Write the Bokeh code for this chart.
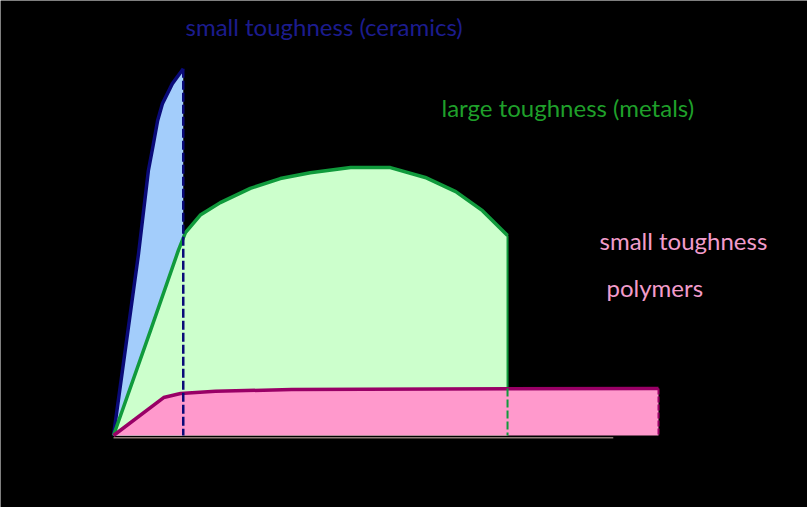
from bokeh.plotting import figure
from bokeh.models import Range1d
from bokeh.embed import file_html
from bokeh.resources import INLINE
from bokeh.core.properties import value

# ---- data (strain in % of polymer failure strain, stress in % of ceramic strength) ----
ceramic_strain = [0, 4.6, 6.4, 7.2, 8.1, 9.0, 10.8, 12.8]
ceramic_stress = [0, 49.9, 72.6, 78.9, 86.3, 91.0, 96.4, 100.5]

metal_strain = [0, 6.8, 11.9, 13.2, 16.0, 19.6, 25.1, 30.6, 36.1, 43.5, 50.8, 57.2, 62.8, 67.7, 72.3]
metal_stress = [0, 28.8, 50.7, 55.6, 60.5, 63.8, 67.7, 70.4, 72.0, 73.4, 73.4, 70.7, 66.8, 61.6, 54.8]

polymer_strain = [0, 9.2, 12.3, 18.7, 32.7, 100.0]
polymer_stress = [0, 10.4, 11.5, 12.1, 12.6, 12.9]

baseline_strain = [0, 91.7]

labels = ["small toughness (ceramics)", "large toughness (metals)", "small toughness", "polymers"]

# ---- figure ----
XS, YS = 5.45, 3.65   # pixels per data unit
p = figure(width=807, height=507, output_backend="svg", toolbar_location=None,
           x_range=Range1d(-113 / XS, (807 - 113) / XS),
           y_range=Range1d(-(507 - 435) / YS, 435 / YS),
           min_border=0, min_border_left=0, min_border_right=0,
           min_border_top=0, min_border_bottom=0)
p.xaxis.visible = False
p.yaxis.visible = False
p.grid.visible = False
p.background_fill_color = "black"
p.border_fill_color = "black"
p.outline_line_color = None

BLUE_FILL, BLUE_LINE = "#a3cdfb", "#0a0a78"
GREEN_FILL, GREEN_LINE = "#ccffcc", "#109a3c"
PINK_FILL, PINK_LINE = "#ff99cc", "#990066"


def closed(xs, ys):
    return xs + [xs[-1]], ys + [0]


# baseline (faint axis)
p.line(baseline_strain, [-0.6, -0.6], line_color="#8c7c74", line_width=1.5)

# ceramics
cx, cy = closed(ceramic_strain, ceramic_stress)
p.patch(cx, cy, fill_color=BLUE_FILL, line_color=None)
p.line(ceramic_strain, ceramic_stress, line_color=BLUE_LINE, line_width=3.5, line_join="round")

# metals
mx, my = closed(metal_strain, metal_stress)
p.patch(mx, my, fill_color=GREEN_FILL, line_color=None)
p.line(metal_strain, metal_stress, line_color=GREEN_LINE, line_width=3.5, line_join="round")
p.segment(x0=[metal_strain[-1]], y0=[metal_stress[-1]], x1=[metal_strain[-1]],
          y1=[polymer_stress[-1]], line_color=GREEN_LINE, line_width=2)

# polymers
px_, py_ = closed(polymer_strain, polymer_stress)
p.patch(px_, py_, fill_color=PINK_FILL, line_color=None)
p.line(polymer_strain, polymer_stress, line_color=PINK_LINE, line_width=3.5, line_join="round")

# dashed verticals
p.segment(x0=[metal_strain[-1]], y0=[polymer_stress[-1]], x1=[metal_strain[-1]], y1=[0],
          line_color=GREEN_LINE, line_width=2, line_dash="8 3")
p.segment(x0=[polymer_strain[-1]], y0=[polymer_stress[-1]], x1=[polymer_strain[-1]], y1=[0],
          line_color=PINK_LINE, line_width=2, line_dash="6 2")
p.segment(x0=[ceramic_strain[-1]], y0=[ceramic_stress[-1]], x1=[ceramic_strain[-1]], y1=[0],
          line_color=BLUE_LINE, line_width=2.5, line_dash="9 3")

# labels
font = value("Lato")
size = "24px"
p.text(x=[(185 - 113) / XS], y=[(435 - 26) / YS], text=[labels[0]], text_color="#1c1c8e",
       text_font=font, text_font_size=size, text_baseline="middle", text_align="left")
p.text(x=[(441 - 113) / XS], y=[(435 - 107) / YS], text=[labels[1]], text_color="#1f9f2a",
       text_font=font, text_font_size=size, text_baseline="middle", text_align="left")
p.text(x=[(599 - 113) / XS], y=[(435 - 240) / YS], text=[labels[2]], text_color="#f29ccb",
       text_font=font, text_font_size=size, text_baseline="middle", text_align="left")
p.text(x=[(606 - 113) / XS], y=[(435 - 287) / YS], text=[labels[3]], text_color="#f29ccb",
       text_font=font, text_font_size=size, text_baseline="middle", text_align="left")

open("out.html", "w").write(file_html(p, INLINE))
